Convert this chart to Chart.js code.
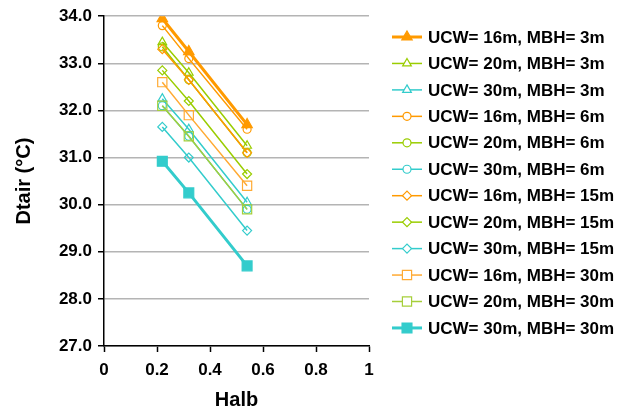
<!DOCTYPE html>
<html lang="en">
<head>
  <meta charset="UTF-8">
  <title>Dtair vs Halb</title>
  <script src="https://cdn.jsdelivr.net/npm/chart.js"></script>
  <style>
    html, body { margin: 0; padding: 0; background: #fff; }
    #wrap { width: 620px; height: 412px; position: relative; }
  </style>
</head>
<body>
  <div id="wrap"><canvas id="chart" width="620" height="412"></canvas></div>

  <script>
    // Albedo values on the x axis
    const halb = [0.22, 0.32, 0.54];

    // Series labels and values (Dtair, °C)
    const seriesNames = [
      'UCW= 16m, MBH= 3m', 'UCW= 20m, MBH= 3m', 'UCW= 30m, MBH= 3m',
      'UCW= 16m, MBH= 6m', 'UCW= 20m, MBH= 6m', 'UCW= 30m, MBH= 6m',
      'UCW= 16m, MBH= 15m', 'UCW= 20m, MBH= 15m', 'UCW= 30m, MBH= 15m',
      'UCW= 16m, MBH= 30m', 'UCW= 20m, MBH= 30m', 'UCW= 30m, MBH= 30m'
    ];
    const ucw16mbh3 = [33.95, 33.25, 31.70];
    const ucw20mbh3 = [33.45, 32.80, 31.25];
    const ucw30mbh3 = [32.25, 31.60, 30.05];
    const ucw16mbh6 = [33.80, 33.10, 31.60];
    const ucw20mbh6 = [33.35, 32.65, 31.10];
    const ucw30mbh6 = [32.10, 31.45, 29.90];
    const ucw16mbh15 = [33.30, 32.65, 31.10];
    const ucw20mbh15 = [32.85, 32.20, 30.65];
    const ucw30mbh15 = [31.65, 31.00, 29.45];
    const ucw16mbh30 = [32.60, 31.90, 30.40];
    const ucw20mbh30 = [32.10, 31.45, 29.90];
    const ucw30mbh30 = [30.92, 30.25, 28.70];
    const seriesValues = [
      ucw16mbh3, ucw20mbh3, ucw30mbh3,
      ucw16mbh6, ucw20mbh6, ucw30mbh6,
      ucw16mbh15, ucw20mbh15, ucw30mbh15,
      ucw16mbh30, ucw20mbh30, ucw30mbh30
    ];

    const xTicks = [0, 0.2, 0.4, 0.6, 0.8, 1];
    const yTicks = [27, 28, 29, 30, 31, 32, 33, 34];

    const ORANGE = '#ff9a00';
    const GREEN = '#9acd00';
    const CYAN = '#33cccc';

    // marker style per series
    const styles = [
      { color: ORANGE, point: 'triangle', fill: true, width: 3, r: 6 },
      { color: GREEN, point: 'triangle', fill: false, width: 1.5, r: 5 },
      { color: CYAN, point: 'triangle', fill: false, width: 1.5, r: 5 },
      { color: ORANGE, point: 'circle', fill: false, width: 1.5, r: 4 },
      { color: GREEN, point: 'circle', fill: false, width: 1.5, r: 4 },
      { color: CYAN, point: 'circle', fill: false, width: 1.5, r: 4 },
      { color: ORANGE, point: 'rectRot', fill: false, width: 1.5, r: 4.5 },
      { color: GREEN, point: 'rectRot', fill: false, width: 1.5, r: 4.5 },
      { color: CYAN, point: 'rectRot', fill: false, width: 1.5, r: 4.5 },
      { color: '#ffaa33', point: 'rect', fill: false, width: 1.5, r: 6.5 },
      { color: '#a6cf3a', point: 'rect', fill: false, width: 1.5, r: 6.5 },
      { color: CYAN, point: 'rect', fill: true, width: 3, r: 7 }
    ];

    const datasets = seriesNames.map((name, i) => {
      const s = styles[i];
      return {
        label: name,
        data: halb.map((x, j) => ({ x: x, y: seriesValues[i][j] })),
        borderColor: s.color,
        borderWidth: s.width,
        pointStyle: s.point,
        pointRadius: s.r,
        pointBorderWidth: 1.2,
        pointBorderColor: s.color,
        pointBackgroundColor: s.fill ? s.color : 'rgba(0,0,0,0)',
        showLine: true,
        fill: false,
        tension: 0
      };
    }).reverse();

    // legend drawn on the right, first series at top
    const sideLegend = {
      id: 'sideLegend',
      afterDraw(chart) {
        const ctx = chart.ctx;
        ctx.save();
        seriesNames.forEach((name, i) => {
          const s = styles[i];
          const y = 37 + i * 26.45;
          ctx.strokeStyle = s.color;
          ctx.lineWidth = s.width;
          ctx.beginPath();
          ctx.moveTo(392, y);
          ctx.lineTo(422, y);
          ctx.stroke();
          ctx.fillStyle = s.fill ? s.color : '#fff';
          ctx.strokeStyle = s.color;
          ctx.lineWidth = 1.2;
          Chart.helpers.drawPoint(ctx, {
            pointStyle: s.point, rotation: 0, radius: s.r, borderWidth: 1.2
          }, 407, y);
          ctx.fillStyle = '#000';
          ctx.font = 'bold 17px "Liberation Sans", Arial, sans-serif';
          ctx.textBaseline = 'middle';
          ctx.textAlign = 'left';
          ctx.fillText(name, 428, y + 1);
        });
        ctx.restore();
      }
    };

    const font = { family: '"Liberation Sans", Arial, sans-serif', weight: 'bold' };

    new Chart(document.getElementById('chart'), {
      type: 'scatter',
      data: { datasets: datasets },
      options: {
        responsive: false,
        animation: false,
        layout: { padding: { left: 0, top: 14, right: 251, bottom: 0 } },
        plugins: {
          legend: { display: false },
          tooltip: { enabled: false }
        },
        scales: {
          x: {
            type: 'linear',
            min: 0,
            max: 1,
            afterBuildTicks: (scale) => { scale.ticks = xTicks.map(v => ({ value: v })); },
            afterFit: (scale) => { scale.height = 66; },
            ticks: {
              color: '#000',
              font: Object.assign({ size: 17 }, font),
              padding: 8,
              callback: (v) => String(v)
            },
            grid: { drawOnChartArea: false, tickLength: 6, tickColor: '#000', tickWidth: 1.5 },
            border: { color: '#000', width: 1.5 },
            title: {
              display: true,
              text: 'Halb',
              color: '#000',
              font: Object.assign({ size: 20 }, font),
              padding: { top: 4, bottom: 0 }
            }
          },
          y: {
            min: 27,
            max: 34,
            afterBuildTicks: (scale) => { scale.ticks = yTicks.map(v => ({ value: v })); },
            afterFit: (scale) => { scale.width = 104; },
            ticks: {
              color: '#000',
              font: Object.assign({ size: 17 }, font),
              padding: 6,
              callback: (v) => v.toFixed(1)
            },
            grid: { color: '#b4b4b4', lineWidth: 1.5, tickLength: 6, tickColor: '#000', tickWidth: 1.5 },
            border: { color: '#000', width: 1.5 },
            title: {
              display: true,
              text: 'Dtair (°C)',
              color: '#000',
              font: Object.assign({ size: 20 }, font),
              padding: { top: 12, bottom: 0 }
            }
          }
        }
      },
      plugins: [sideLegend]
    });
  </script>
</body>
</html>
